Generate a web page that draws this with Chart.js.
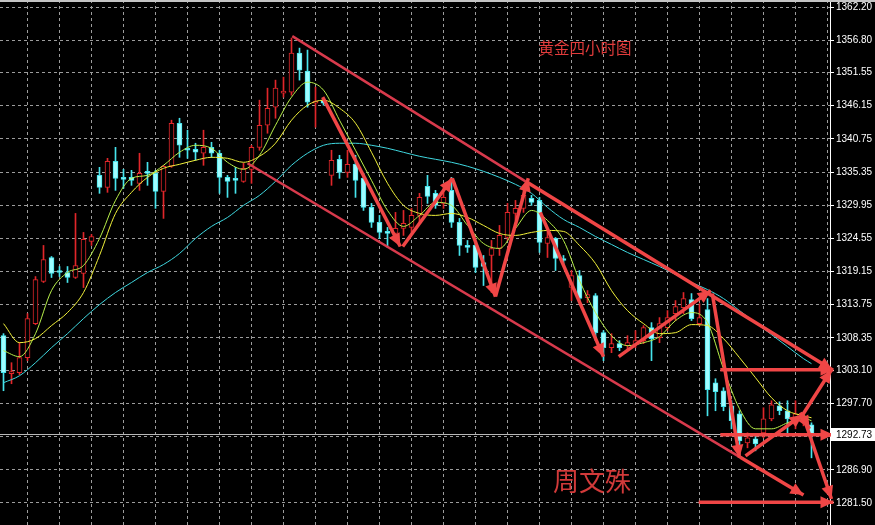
<!DOCTYPE html>
<html>
<head>
<meta charset="utf-8">
<title>黄金四小时图</title>
<script src="https://cdn.jsdelivr.net/npm/chart.js@4.4.1/dist/chart.umd.min.js"></script>
<style>
    html, body { margin: 0; padding: 0; background: #000; }
    #wrap { position: relative; width: 875px; height: 525px; }
</style>
</head>
<body>
<div id="wrap"><canvas id="gold-chart"></canvas></div>
<script>
// H4 candles, index 0 = left-most bar
const candleOpen = [
    1308.72, 1302.53, 1302.69, 1305.14, 1310.68, 1317.53, 1321.44, 1319.32, 1319.00, 1318.18,
    1318.83, 1324.05, 1334.81, 1332.85, 1337.09, 1334.48, 1334.48, 1333.51, 1335.46, 1335.14,
    1332.20, 1336.28, 1343.29, 1339.21, 1339.05, 1338.40, 1339.37, 1338.40, 1334.48, 1334.32,
    1333.83, 1335.79, 1339.37, 1342.96, 1345.90, 1348.18, 1348.34, 1354.70, 1351.76, 1346.55,
    1347.04, 1334.81, 1337.42, 1335.30, 1336.60, 1334.32, 1329.59, 1327.15, 1325.68, 1325.35,
    1326.17, 1326.33, 1328.29, 1333.02, 1331.88, 1330.24, 1332.36, 1327.15, 1323.40, 1323.40,
    1320.63, 1321.77, 1322.91, 1324.70, 1328.61, 1329.43, 1331.06, 1330.73, 1323.72, 1324.54,
    1321.28, 1316.55, 1318.51, 1314.92, 1315.25, 1309.21, 1306.77, 1307.42, 1307.09, 1307.26,
    1307.91, 1310.03, 1308.40, 1310.03, 1312.31, 1313.29, 1314.59, 1310.68, 1312.96, 1301.06,
    1299.76, 1297.31, 1296.01, 1291.28, 1291.93, 1292.91, 1295.19, 1297.31, 1296.50, 1295.36,
    1294.87, 1294.22
];
const candleHigh = [
    1309.05, 1304.32, 1307.58, 1312.31, 1318.34, 1323.40, 1321.60, 1319.97, 1319.97, 1328.61,
    1325.52, 1325.19, 1336.11, 1337.58, 1339.37, 1335.79, 1335.62, 1338.40, 1336.93, 1335.62,
    1336.44, 1343.78, 1344.10, 1342.15, 1340.03, 1342.15, 1340.19, 1338.89, 1334.81, 1336.11,
    1336.77, 1339.70, 1347.04, 1348.99, 1350.30, 1350.79, 1357.14, 1355.51, 1355.19, 1349.16,
    1347.36, 1338.89, 1338.07, 1338.89, 1338.07, 1335.14, 1330.24, 1328.29, 1326.33, 1328.78,
    1329.10, 1329.43, 1331.88, 1334.81, 1332.36, 1332.85, 1334.48, 1327.80, 1324.21, 1323.89,
    1321.77, 1324.21, 1326.66, 1330.24, 1330.73, 1333.18, 1331.55, 1331.22, 1325.84, 1324.70,
    1321.77, 1319.32, 1319.32, 1316.06, 1315.57, 1309.54, 1309.05, 1307.91, 1308.72, 1309.54,
    1310.36, 1310.84, 1311.66, 1312.80, 1314.43, 1315.74, 1315.57, 1313.94, 1314.76, 1301.71,
    1300.25, 1298.13, 1296.50, 1292.91, 1292.75, 1296.99, 1298.13, 1297.96, 1298.13, 1298.13,
    1296.01, 1294.54
];
const candleLow = [
    1299.76, 1300.90, 1302.37, 1304.65, 1310.52, 1317.37, 1318.18, 1318.34, 1317.37, 1318.02,
    1316.55, 1323.40, 1331.88, 1332.04, 1332.36, 1332.69, 1333.18, 1332.36, 1333.18, 1329.43,
    1327.80, 1336.11, 1337.74, 1337.58, 1337.26, 1336.44, 1337.74, 1331.88, 1331.22, 1331.88,
    1333.67, 1333.51, 1338.89, 1341.66, 1344.10, 1347.53, 1347.85, 1350.30, 1345.90, 1342.64,
    1346.22, 1333.18, 1334.32, 1334.48, 1331.22, 1329.10, 1326.33, 1324.54, 1323.07, 1325.03,
    1325.03, 1325.52, 1327.15, 1330.24, 1329.43, 1329.43, 1326.33, 1321.77, 1322.26, 1318.99,
    1316.88, 1315.74, 1321.77, 1324.21, 1327.47, 1328.78, 1329.92, 1322.26, 1321.44, 1319.32,
    1320.46, 1314.43, 1314.43, 1314.10, 1307.91, 1304.65, 1305.95, 1306.28, 1306.61, 1306.77,
    1307.42, 1304.65, 1307.58, 1309.54, 1311.17, 1312.31, 1311.17, 1310.36, 1295.68, 1296.50,
    1296.50, 1293.56, 1288.84, 1290.47, 1289.98, 1292.10, 1294.87, 1295.85, 1292.91, 1293.56,
    1294.05, 1288.84
];
const candleClose = [
    1302.69, 1302.86, 1305.14, 1311.50, 1317.85, 1321.12, 1318.83, 1319.00, 1318.18, 1320.14,
    1324.38, 1324.86, 1332.85, 1337.09, 1334.32, 1334.16, 1333.99, 1335.14, 1335.14, 1332.20,
    1336.28, 1343.29, 1339.70, 1338.89, 1338.56, 1339.37, 1338.40, 1334.48, 1333.83, 1333.99,
    1335.95, 1339.37, 1342.96, 1345.73, 1348.99, 1348.50, 1354.70, 1351.93, 1346.71, 1346.87,
    1346.55, 1337.26, 1335.30, 1336.60, 1333.99, 1329.59, 1327.15, 1325.52, 1325.35, 1326.17,
    1326.98, 1328.29, 1331.22, 1331.39, 1329.92, 1331.22, 1327.15, 1323.40, 1323.07, 1319.81,
    1319.97, 1322.91, 1325.03, 1328.78, 1329.43, 1331.55, 1330.41, 1323.89, 1324.70, 1321.28,
    1320.95, 1318.51, 1314.76, 1315.41, 1309.21, 1306.77, 1307.42, 1306.77, 1307.58, 1307.91,
    1310.03, 1308.24, 1310.68, 1311.66, 1313.45, 1314.76, 1311.50, 1311.66, 1299.92, 1299.60,
    1297.15, 1294.87, 1291.61, 1292.10, 1291.12, 1295.19, 1297.48, 1296.50, 1295.19, 1296.01,
    1295.36, 1292.73
];

// moving averages at these bar indexes
const maIndex = [
    0, 2, 4, 6, 8, 10, 12, 14, 16, 18, 20, 22, 24, 26, 28, 30, 32, 34, 36, 38,
    40, 42, 44, 46, 48, 50, 52, 54, 56, 58, 60, 62, 64, 66, 68, 70, 72, 74, 76, 78,
    80, 82, 84, 86, 88, 90, 92, 94, 96, 98, 100, 101
];
const maFast = [
    1306.28, 1305.30, 1309.05, 1316.06, 1319.00, 1320.14, 1324.54, 1330.73, 1334.32, 1334.81,
    1336.44, 1338.56, 1339.70, 1339.21, 1336.93, 1335.79, 1338.07, 1342.96, 1347.53, 1349.97,
    1348.67, 1343.78, 1338.89, 1333.99, 1329.10, 1326.50, 1328.29, 1330.41, 1329.92, 1326.66,
    1323.72, 1322.91, 1326.17, 1329.10, 1327.47, 1324.21, 1317.69, 1312.48, 1308.72, 1307.09,
    1307.58, 1308.56, 1311.17, 1312.48, 1310.84, 1303.34, 1296.82, 1293.56, 1293.56, 1294.54,
    1295.36, 1294.87
];
const maMid = [
    1310.68, 1307.58, 1308.24, 1310.36, 1312.48, 1315.74, 1321.77, 1328.61, 1332.04, 1334.48,
    1335.95, 1336.60, 1337.26, 1337.74, 1337.58, 1336.93, 1337.91, 1340.03, 1343.78, 1346.22,
    1347.04, 1345.73, 1343.29, 1338.56, 1333.51, 1329.92, 1328.61, 1328.29, 1328.61, 1327.96,
    1326.66, 1325.35, 1325.03, 1325.52, 1325.84, 1325.68, 1323.40, 1320.46, 1316.06, 1312.80,
    1310.68, 1309.05, 1309.21, 1310.52, 1310.36, 1308.24, 1305.14, 1301.88, 1298.62, 1296.50,
    1295.68, 1295.36
];
const maSlow = [
    1301.06, 1302.20, 1304.32, 1306.77, 1309.05, 1311.50, 1313.78, 1315.74, 1317.37, 1319.00,
    1320.30, 1322.09, 1324.54, 1326.50, 1327.96, 1329.92, 1331.55, 1333.83, 1336.44, 1338.40,
    1339.70, 1340.03, 1340.03, 1339.70, 1339.21, 1338.56, 1337.91, 1337.42, 1336.93, 1336.28,
    1335.46, 1334.48, 1333.34, 1331.88, 1329.59, 1327.64, 1326.33, 1324.86, 1323.56, 1322.26,
    1321.12, 1319.97, 1318.67, 1317.37, 1316.22, 1314.76, 1312.80, 1310.84, 1308.89, 1306.93,
    1304.98, 1304.16
];

// price axis
const yTickValues = [1362.20, 1356.80, 1351.55, 1346.15, 1340.75, 1335.35, 1329.95, 1324.55,
    1319.15, 1313.75, 1308.35, 1303.10, 1297.70, 1292.30, 1286.90, 1281.50];
const yTickLabels = ['1362.20', '1356.80', '1351.55', '1346.15', '1340.75', '1335.35', '1329.95', '1324.55',
    '1319.15', '1313.75', '1308.35', '1303.10', '1297.70', '', '1286.90', '1281.50'];
const xGridIndex = [1, 5, 9, 13, 17, 21, 25, 29, 33, 37, 41, 45, 49, 53, 57, 61, 65, 69, 73, 77,
    81, 85, 89, 93, 97, 101];
const currentPrice = 1292.73;

// hand drawn annotations: [barFrom, priceFrom, barTo, priceTo]
const trendLines = [
    [36.1, 1357.47, 65.25, 1333.83],
    [30.5, 1336.77, 92.1, 1288.92]
];
const arrowLines = [
    [65.25, 1333.83, 103.6, 1303.18],
    [92.1, 1288.92, 100.0, 1282.80],
    [39.9, 1347.53, 49.6, 1323.23],
    [49.9, 1323.23, 56.1, 1334.32],
    [56.1, 1334.32, 61.5, 1315.08],
    [61.5, 1315.08, 65.6, 1334.32],
    [67.1, 1328.78, 75.0, 1305.30],
    [76.9, 1305.30, 88.4, 1316.06],
    [88.6, 1315.57, 92.0, 1288.84],
    [92.75, 1289.16, 99.9, 1295.85],
    [99.9, 1295.85, 103.5, 1303.18],
    [99.9, 1295.85, 103.5, 1282.15],
    [99.6, 1296.18, 100.75, 1293.56],
    [89.6, 1303.18, 103.75, 1303.18],
    [89.6, 1292.60, 103.75, 1292.60],
    [86.9, 1281.62, 103.75, 1281.62]
];

const titleText = '黄金四小时图';
const authorText = '周文殊';

document.addEventListener('DOMContentLoaded', function() {
    const canvas = document.getElementById('gold-chart');

    const upColor = '#e0262a';
    const downColor = '#46e4ec';
    const arrowColor = '#f04646';

    Chart.defaults.font.family = "'Liberation Sans', sans-serif";

    const isUp = candleClose.map((c, i) => c >= candleOpen[i]);

    const wickData = candleLow.map((l, i) => ({ x: i, y: [l, candleHigh[i]] }));
    const bodyData = candleOpen.map((o, i) => ({ x: i, y: [o, candleClose[i]] }));

    function maPoints(values) {
        return values.map((v, k) => ({ x: maIndex[k], y: v }));
    }

    function segment(l) {
        return [{ x: l[0], y: l[1] }, { x: l[2], y: l[3] }];
    }

    const datasets = [
        {
            type: 'bar',
            data: wickData,
            grouped: false,
            barThickness: 1,
            backgroundColor: isUp.map(u => u ? upColor : downColor),
            borderWidth: 0,
            order: 6
        },
        {
            type: 'bar',
            data: bodyData,
            grouped: false,
            barThickness: 5,
            backgroundColor: isUp.map(u => u ? '#000000' : '#9ffcff'),
            borderColor: isUp.map(u => u ? upColor : downColor),
            borderWidth: 1,
            borderSkipped: false,
            order: 5
        },
        {
            type: 'line',
            data: maPoints(maSlow),
            borderColor: '#3fd8e0',
            borderWidth: 1,
            pointRadius: 0,
            cubicInterpolationMode: 'monotone',
            order: 4
        },
        {
            type: 'line',
            data: maPoints(maMid),
            borderColor: '#f2f23a',
            borderWidth: 1,
            pointRadius: 0,
            cubicInterpolationMode: 'monotone',
            order: 3
        },
        {
            type: 'line',
            data: maPoints(maFast),
            borderColor: '#b8f04a',
            borderWidth: 1,
            pointRadius: 0,
            cubicInterpolationMode: 'monotone',
            order: 3
        }
    ];

    trendLines.forEach(l => datasets.push({
        type: 'line',
        data: segment(l),
        borderColor: '#d83a4c',
        borderWidth: 2.5,
        pointRadius: 0,
        clip: 10,
        order: 1
    }));

    arrowLines.forEach(l => datasets.push({
        type: 'line',
        data: segment(l),
        borderColor: arrowColor,
        borderWidth: 3.5,
        pointRadius: 0,
        clip: 10,
        order: 0
    }));

    // Extra drawing: background, arrow heads, price marker, captions
    const mt4Plugin = {
        id: 'mt4Extras',
        beforeDraw(chart) {
            const ctx = chart.ctx;
            ctx.save();
            ctx.fillStyle = '#000';
            ctx.fillRect(0, 0, chart.width, chart.height);
            ctx.restore();
        },
        beforeDatasetsDraw(chart) {
            const { ctx, chartArea, scales } = chart;
            const y = Math.round(scales.y.getPixelForValue(currentPrice)) + 0.5;
            ctx.save();
            ctx.strokeStyle = '#b8b8b8';
            ctx.lineWidth = 1;
            ctx.beginPath();
            ctx.moveTo(chartArea.left, y);
            ctx.lineTo(chartArea.right, y);
            ctx.stroke();
            ctx.restore();
        },
        afterDatasetsDraw(chart) {
            const { ctx, scales } = chart;
            ctx.save();
            ctx.fillStyle = arrowColor;
            arrowLines.forEach(l => {
                const x1 = scales.x.getPixelForValue(l[0]);
                const y1 = scales.y.getPixelForValue(l[1]);
                const x2 = scales.x.getPixelForValue(l[2]);
                const y2 = scales.y.getPixelForValue(l[3]);
                const ang = Math.atan2(y2 - y1, x2 - x1);
                const len = 13, half = 6;
                const bx = x2 - len * Math.cos(ang);
                const by = y2 - len * Math.sin(ang);
                ctx.beginPath();
                ctx.moveTo(x2, y2);
                ctx.lineTo(bx + half * Math.sin(ang), by - half * Math.cos(ang));
                ctx.lineTo(bx - half * Math.sin(ang), by + half * Math.cos(ang));
                ctx.closePath();
                ctx.fill();
            });
            ctx.restore();
        },
        afterDraw(chart) {
            const { ctx, chartArea, scales } = chart;
            ctx.save();

            // window frame line at the top
            ctx.fillStyle = '#c4c4c4';
            ctx.fillRect(0, 0, chart.width, 2);

            // current price marker
            const py = Math.round(scales.y.getPixelForValue(currentPrice));
            ctx.fillStyle = '#ffffff';
            ctx.fillRect(chartArea.right + 1, py - 6, chart.width - chartArea.right - 1, 13);
            ctx.fillStyle = '#000000';
            ctx.font = "10px 'Liberation Sans'";
            ctx.textAlign = 'left';
            ctx.textBaseline = 'middle';
            ctx.fillText(currentPrice.toFixed(2), chartArea.right + 6, py + 1);

            // captions
            ctx.textAlign = 'center';
            ctx.fillStyle = '#e23c3c';
            ctx.font = "15.5px 'Noto Sans CJK SC'";
            ctx.fillText(titleText, chartArea.left + 585, 48);
            ctx.fillStyle = '#d23a3a';
            ctx.font = "26px 'Noto Sans CJK SC'";
            ctx.fillText(authorText, chartArea.left + 592, 481);

            ctx.restore();
        }
    };

    new Chart(canvas, {
        type: 'bar',
        data: { datasets: datasets },
        options: {
            responsive: true,
            maintainAspectRatio: false,
            animation: false,
            events: [],
            layout: { padding: 0 },
            plugins: {
                legend: { display: false },
                tooltip: { enabled: false }
            },
            scales: {
                x: {
                    type: 'linear',
                    min: -0.4375,
                    max: 103.3125,
                    offset: false,
                    afterBuildTicks: s => { s.ticks = xGridIndex.map(v => ({ value: v })); },
                    afterFit: s => { s.height = 0; },
                    ticks: { display: false },
                    grid: { color: '#9c9c9c', lineWidth: 1, drawTicks: false },
                    border: { display: false, dash: [3, 3] }
                },
                y: {
                    type: 'linear',
                    position: 'right',
                    min: 1277.91,
                    max: 1363.34,
                    afterBuildTicks: s => { s.ticks = yTickValues.map(v => ({ value: v })); },
                    afterFit: s => {
                        s.width = 45;
                        s.paddingTop = 0;
                        s.paddingBottom = 0;
                    },
                    ticks: {
                        color: '#ffffff',
                        padding: 2,
                        autoSkip: false,
                        font: { family: "'Liberation Sans'", size: 10, lineHeight: 0.05 },
                        callback: function(value, index) {
                            return yTickLabels[index];
                        }
                    },
                    grid: {
                        color: '#9c9c9c',
                        lineWidth: 1,
                        drawTicks: true,
                        tickLength: 4,
                        tickColor: '#ffffff'
                    },
                    border: { display: true, color: '#ffffff', width: 1, dash: [3, 3] }
                }
            }
        },
        plugins: [mt4Plugin]
    });
});
</script>
</body>
</html>
